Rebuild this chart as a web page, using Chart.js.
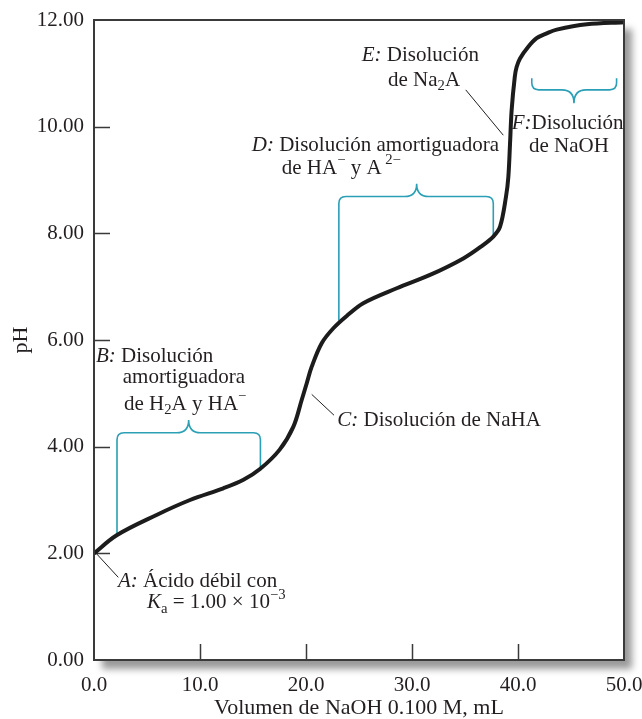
<!DOCTYPE html>
<html>
<head>
<meta charset="utf-8">
<script src="https://cdn.jsdelivr.net/npm/chart.js@4/dist/chart.umd.min.js"></script>
<style>
  html, body { margin: 0; padding: 0; background: #fff; }
  canvas { display: block; }
</style>
</head>
<body>
<canvas id="c" width="642" height="719"></canvas>
<script>
// ---- Data ----
const volumeML = [0, 2.14, 5.9, 9.06, 12.2, 14.1, 15.66, 17.5, 18.8, 19.6, 20.07, 20.54, 21.48, 22.58, 23.84, 25.4, 28.56, 31.7, 34.84, 36.7, 37.67, 38.3, 38.87, 39.09, 39.25, 39.4, 39.7, 39.87, 40.19, 40.97, 41.76, 42.7, 43.65, 46.5, 50];
const pH       = [2.00, 2.34, 2.72, 3.00, 3.22, 3.38, 3.58, 3.94, 4.37, 4.88, 5.19, 5.50, 5.94, 6.22, 6.45, 6.69, 6.97, 7.22, 7.53, 7.78, 7.94, 8.12, 8.69, 9.06, 9.69, 10.31, 10.94, 11.12, 11.28, 11.50, 11.66, 11.75, 11.82, 11.92, 11.96];
const xTicks = [0, 10, 20, 30, 40, 50];
const yTicks = [0, 2, 4, 6, 8, 10, 12];

// ---- Annotation layout (data coordinates) ----
const annotationText = [
  { x: 2.26, y: 1.47, runs: [['A:', 'i'], [' Ácido débil con']] },
  { x: 5.0, y: 1.07, runs: [['K', 'i'], ['a', 'sub'], [' = 1.00 × 10'], ['−3', 'sup']] },
  { x: 0.19, y: 5.69, runs: [['B:', 'i'], [' Disolución']] },
  { x: 2.71, y: 5.29, runs: [['amortiguadora']] },
  { x: 2.83, y: 4.80, runs: [['de H'], ['2', 'sub'], ['A y HA'], ['−', 'sup']] },
  { x: 22.95, y: 4.49, runs: [['C:', 'i'], [' Disolución de NaHA']] },
  { x: 14.88, y: 9.64, runs: [['D:', 'i'], [' Disolución amortiguadora']] },
  { x: 17.71, y: 9.225, runs: [['de HA'], ['−', 'sup'], [' y A'], [' 2−', 'sup']] },
  { x: 25.25, y: 11.34, runs: [['E:', 'i'], [' Disolución']] },
  { x: 27.74, y: 10.875, runs: [['de Na'], ['2', 'sub'], ['A']] },
  { x: 39.4, y: 10.06, runs: [['F:', 'i'], ['Disolución']] },
  { x: 41.04, y: 9.625, runs: [['de NaOH']] }
];
const pointerLines = [
  [0.25, 1.99, 2.29, 1.55],
  [20.54, 4.98, 22.64, 4.59],
  [35.07, 10.69, 38.61, 9.84]
];
// brackets: x1 leg, y1 bottom, x2 leg, y2 bottom, bar level, tip x, tip y
const brackets = [
  { x1: 2.17, y1: 2.34, x2: 15.7, y2: 3.6, bar: 4.26, cx: 8.93, tip: 4.50 },
  { x1: 23.1, y1: 6.36, x2: 37.67, y2: 7.93, bar: 8.69, cx: 30.44, tip: 8.93 },
  { x1: 41.3, y1: 10.91, x2: 49.3, y2: 10.91, bar: 10.69, cx: 45.28, tip: 10.44 }
];

const SERIF = '"Liberation Serif", "Times New Roman", serif';
const TEAL = '#2a9fb6';

function drawRich(ctx, x, y, runs, size) {
  let cx = x;
  ctx.textBaseline = 'middle';
  ctx.textAlign = 'left';
  ctx.fillStyle = '#231f20';
  for (const [t, st] of runs) {
    let fs = size, dy = 0, style = '';
    if (st === 'i') style = 'italic ';
    if (st === 'sub') { fs = size * 0.7; dy = 6; }
    if (st === 'sup') { fs = size * 0.7; dy = -8; }
    ctx.font = style + fs + 'px ' + SERIF;
    ctx.fillText(t, cx, y + dy);
    cx += ctx.measureText(t).width;
  }
}

const decor = {
  id: 'decor',
  beforeDraw(chart) {
    const { ctx, chartArea: a } = chart;
    ctx.save();
    ctx.shadowColor = 'rgba(0,0,0,0.4)';
    ctx.shadowBlur = 7;
    ctx.shadowOffsetX = 8;
    ctx.shadowOffsetY = 9;
    ctx.fillStyle = '#fff';
    ctx.fillRect(a.left, a.top, a.right - a.left, a.bottom - a.top);
    ctx.restore();
  },
  beforeDatasetsDraw(chart) {
    const { ctx, chartArea: a, scales: { x, y } } = chart;
    ctx.save();
    // inward ticks
    ctx.strokeStyle = '#3a3a3a';
    ctx.lineWidth = 1.5;
    ctx.beginPath();
    for (const v of yTicks) {
      if (v === 0 || v === 12) continue;
      const py = Math.round(y.getPixelForValue(v)) + 0.5;
      ctx.moveTo(a.left, py); ctx.lineTo(a.left + 16, py);
    }
    for (const v of xTicks) {
      if (v === 0 || v === 50) continue;
      const px = Math.round(x.getPixelForValue(v)) + 0.5;
      ctx.moveTo(px, a.bottom); ctx.lineTo(px, a.bottom - 16);
    }
    ctx.stroke();
    // brackets
    ctx.strokeStyle = TEAL;
    ctx.lineWidth = 1.6;
    for (const b of brackets) {
      const X1 = x.getPixelForValue(b.x1), Y1 = y.getPixelForValue(b.y1);
      const X2 = x.getPixelForValue(b.x2), Y2 = y.getPixelForValue(b.y2);
      const BY = y.getPixelForValue(b.bar), CX = x.getPixelForValue(b.cx), TY = y.getPixelForValue(b.tip);
      const s = Math.sign(Y1 - BY);
      const r = 7;
      ctx.beginPath();
      ctx.moveTo(X1, Y1);
      ctx.lineTo(X1, BY + s * r);
      ctx.quadraticCurveTo(X1, BY, X1 + r, BY);
      ctx.lineTo(CX - 12, BY);
      ctx.quadraticCurveTo(CX, BY, CX, TY);
      ctx.quadraticCurveTo(CX, BY, CX + 12, BY);
      ctx.lineTo(X2 - r, BY);
      ctx.quadraticCurveTo(X2, BY, X2, BY + s * r);
      ctx.lineTo(X2, Y2);
      ctx.stroke();
    }
    // pointer lines
    ctx.strokeStyle = '#231f20';
    ctx.lineWidth = 1;
    for (const [x1, y1, x2, y2] of pointerLines) {
      ctx.beginPath();
      ctx.moveTo(x.getPixelForValue(x1), y.getPixelForValue(y1));
      ctx.lineTo(x.getPixelForValue(x2), y.getPixelForValue(y2));
      ctx.stroke();
    }
    // labels
    for (const l of annotationText) {
      drawRich(ctx, x.getPixelForValue(l.x), y.getPixelForValue(l.y), l.runs, 21);
    }
    ctx.restore();
  },
  afterDatasetsDraw(chart) {
    const { ctx, chartArea: a } = chart;
    ctx.save();
    ctx.strokeStyle = '#3a3a3a';
    ctx.lineWidth = 2;
    ctx.strokeRect(a.left, a.top, a.right - a.left, a.bottom - a.top);
    ctx.restore();
  }
};

new Chart(document.getElementById('c'), {
  type: 'line',
  data: {
    datasets: [{
      data: volumeML.map((v, i) => ({ x: v, y: pH[i] })),
      borderColor: '#1c1c1c',
      borderWidth: 4,
      pointRadius: 0,
      fill: false,
      tension: 0.35,
      borderJoinStyle: 'round',
      borderCapStyle: 'round'
    }]
  },
  options: {
    responsive: false,
    devicePixelRatio: 1,
    animation: false,
    layout: { padding: { top: 20, right: 18, left: 0, bottom: 0 } },
    plugins: { legend: { display: false }, tooltip: { enabled: false } },
    scales: {
      x: {
        type: 'linear', min: 0, max: 50,
        afterBuildTicks: s => { s.ticks = xTicks.map(v => ({ value: v })); },
        afterFit: s => { s.height = 59; s.paddingLeft = 0; s.paddingRight = 0; },
        grid: { display: true, drawOnChartArea: false, drawTicks: false },
        border: { display: false },
        ticks: {
          padding: 13, color: '#231f20', maxRotation: 0, autoSkip: false,
          font: { family: SERIF, size: 21 },
          callback: v => Number(v).toFixed(1)
        },
        title: {
          display: true, text: 'Volumen de NaOH 0.100 M, mL', color: '#231f20',
          font: { family: SERIF, size: 22, lineHeight: 1 }, padding: { top: 0, bottom: 0 }
        }
      },
      y: {
        type: 'linear', min: 0, max: 12,
        afterBuildTicks: s => { s.ticks = yTicks.map(v => ({ value: v })); },
        afterFit: s => { s.width = 94; s.paddingTop = 0; s.paddingBottom = 0; },
        grid: { display: true, drawOnChartArea: false, drawTicks: false },
        border: { display: false },
        ticks: {
          padding: 10, color: '#231f20', autoSkip: false,
          font: { family: SERIF, size: 21 },
          callback: v => Number(v).toFixed(2)
        },
        title: {
          display: true, text: 'pH', color: '#231f20',
          font: { family: SERIF, size: 22, lineHeight: 1 }, padding: { top: 10, bottom: 0 }
        }
      }
    }
  },
  plugins: [decor]
});
</script>
</body>
</html>
